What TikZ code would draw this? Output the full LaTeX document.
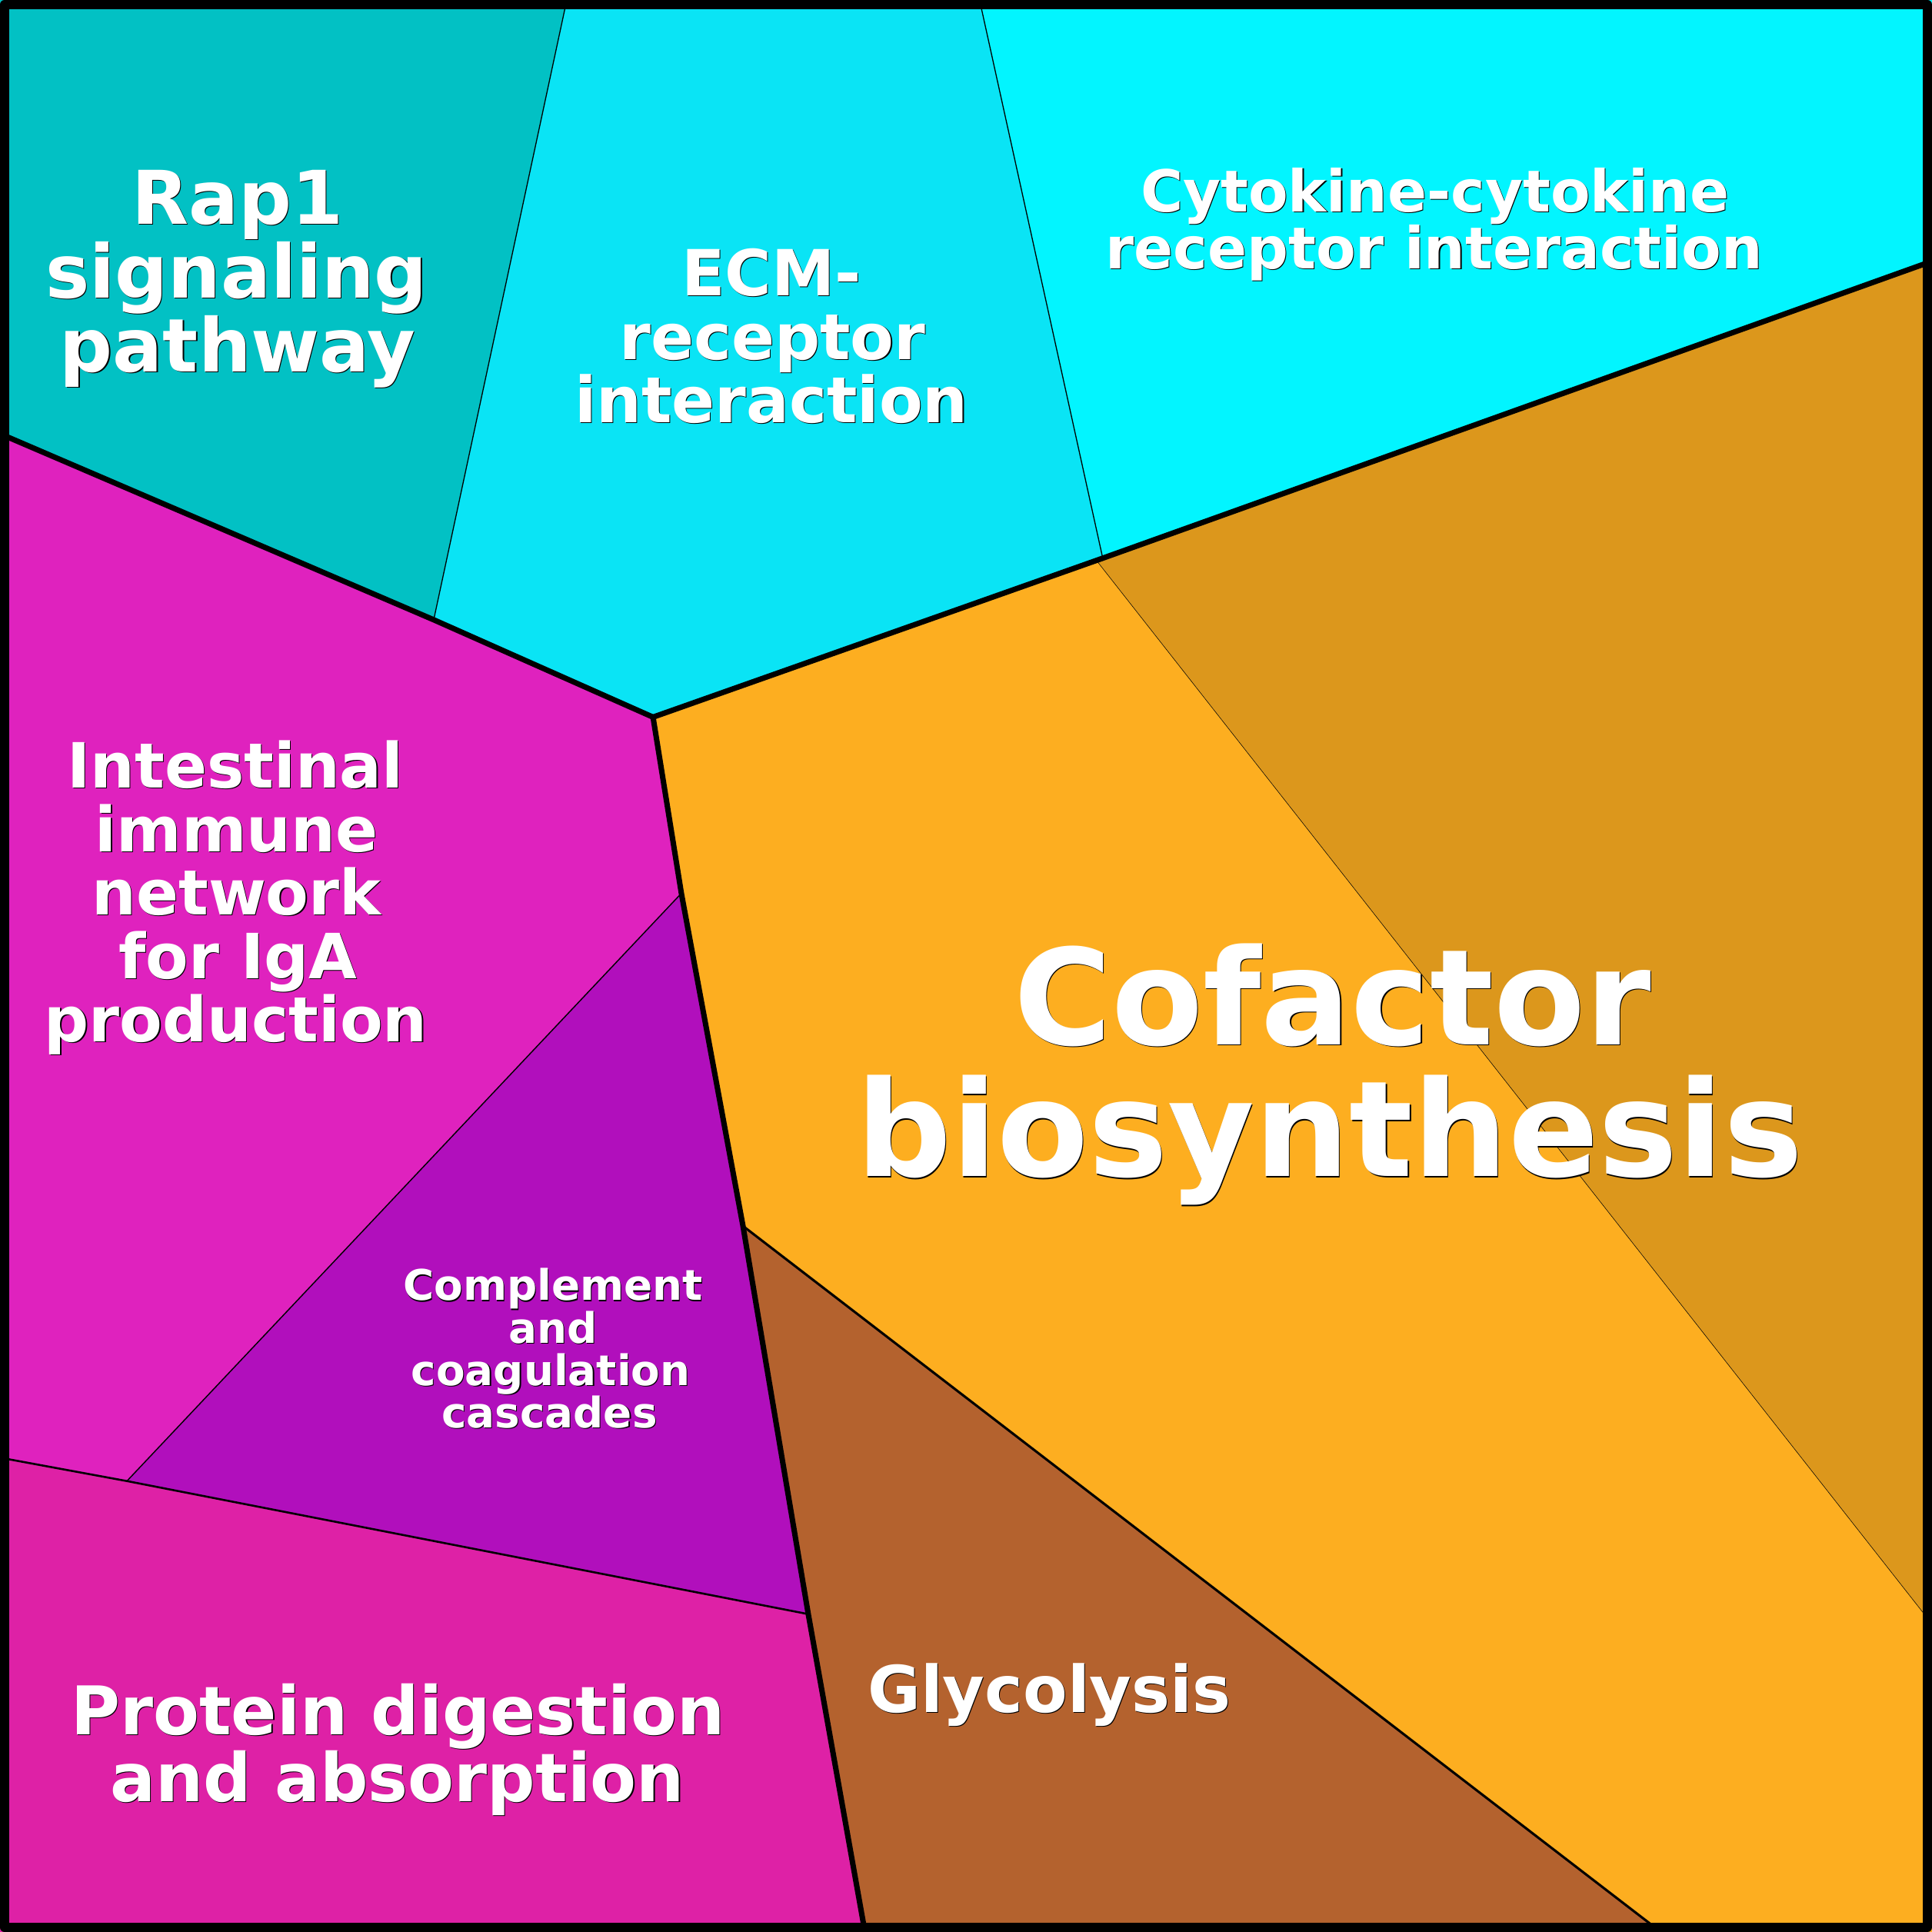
\documentclass[tikz,border=0pt]{standalone}
\usepackage{fontspec}
\setmainfont{DejaVu Sans}
\definecolor{cRap}{HTML}{02C1C4}
\definecolor{cEcm}{HTML}{0AE4F5}
\definecolor{cCyt}{HTML}{02F5FF}
\definecolor{cGold}{HTML}{DC971C}
\definecolor{cCof}{HTML}{FDAE20}
\definecolor{cGly}{HTML}{B4622E}
\definecolor{cInt}{HTML}{DF22BE}
\definecolor{cCom}{HTML}{B10FBC}
\definecolor{cPro}{HTML}{DE21A6}
\tikzset{
  lbltext/.style={anchor=base, inner sep=0pt, text=white},
  lblshadow/.style={anchor=base, inner sep=0pt, text=black, xshift=0.2pt, yshift=-0.2pt},
  thickedge/.style={line width=1.25pt, line join=round, line cap=round},
  frame/.style={line width=2.08pt, line join=round}
}
\newcommand\pwlabel[5]{%
  \node[lblshadow, font=\bfseries\fontsize{#4}{#4}\selectfont] (#1s) at (#2,#3) {#5};
  \node[lbltext, font=\bfseries\fontsize{#4}{#4}\selectfont] (#1) at (#2,#3) {#5};}
\begin{document}
\begin{tikzpicture}[x=0.01cm,y=-0.01cm]
\useasboundingbox (0,0) rectangle (1568,1568);
% corners and vertices
\coordinate (TL) at (0,0);
\coordinate (TR) at (1568,0);
\coordinate (BR) at (1568,1568);
\coordinate (BL) at (0,1568);
\coordinate (t1) at (460,0);
\coordinate (t2) at (795,0);
\coordinate (r1) at (1568,212);
\coordinate (r2) at (1568,1318);
\coordinate (b1) at (702,1568);
\coordinate (b2) at (1348,1568);
\coordinate (l1) at (0,352);
\coordinate (l2) at (0,1183);
\coordinate (v1) at (352,503);
\coordinate (v2) at (530,582);
\coordinate (v3) at (895,453);
\coordinate (v4) at (890,455);
\coordinate (v5) at (553,725);
\coordinate (v6) at (603,995);
\coordinate (v7) at (656,1310);
\coordinate (v8) at (103,1202);
% cells
\fill[cRap] (TL) -- (t1) -- (v1) -- (l1) -- cycle;
\fill[cEcm] (t1) -- (t2) -- (v3) -- (v2) -- (v1) -- cycle;
\fill[cCyt] (t2) -- (TR) -- (r1) -- (v3) -- cycle;
\fill[cGold] (v4) -- (r1) -- (r2) -- cycle;
\fill[cCof] (v2) -- (v4) -- (r2) -- (BR) -- (b2) -- (v6) -- (v5) -- cycle;
\fill[cGly] (v6) -- (b2) -- (b1) -- (v7) -- cycle;
\fill[cInt] (l1) -- (v1) -- (v2) -- (v5) -- (v8) -- (l2) -- cycle;
\fill[cCom] (v5) -- (v6) -- (v7) -- (v8) -- cycle;
\fill[cPro] (l2) -- (v8) -- (v7) -- (b1) -- (BL) -- cycle;
% inner edges
\draw[line width=0.23pt] (t1) -- (v1);
\draw[line width=0.23pt] (t2) -- (v3);
\draw[line width=0.1pt] (v4) -- (r2);
\draw[line width=0.26pt] (v5) -- (v8);
\draw[line width=0.46pt] (l2) -- (v8) -- (v7);
\draw[line width=0.55pt] (v6) -- (b2);
% group edges
\draw[thickedge] (l1) -- (v1) -- (v2) -- (v5) -- (v6) -- (v7) -- (b1);
\draw[thickedge] (v2) -- (v3) -- (r1);
% frame
\draw[frame] (3.65,3.65) rectangle (1564.35,1564.35);
% labels
\pwlabel{rapa}{193}{182}{17.1}{Rap1}
\pwlabel{rapb}{192}{242}{17.1}{signaling}
\pwlabel{rapc}{193}{302}{17.1}{pathway}
\pwlabel{ecma}{626}{240}{14.67}{ECM-}
\pwlabel{ecmb}{627}{292}{14.67}{receptor}
\pwlabel{ecmc}{626}{343}{14.67}{interaction}
\pwlabel{cyta}{1164.5}{172}{13.35}{Cytokine-cytokine}
\pwlabel{cytb}{1164}{218}{13.35}{receptor interaction}
\pwlabel{inta}{191}{639.5}{14.4}{Intestinal}
\pwlabel{intb}{192}{691}{14.4}{immune}
\pwlabel{intc}{192}{742.5}{14.4}{network}
\pwlabel{intd}{193}{794}{14.4}{for IgA}
\pwlabel{inte}{191.5}{845.5}{14.4}{production}
\pwlabel{coma}{449}{1055.5}{9.72}{Complement}
\pwlabel{comb}{449}{1090}{9.72}{and}
\pwlabel{comc}{447}{1124.5}{9.72}{coagulation}
\pwlabel{comd}{446}{1159}{9.72}{cascades}
\pwlabel{proa}{323}{1408}{15.5}{Protein digestion}
\pwlabel{prob}{322.5}{1462}{15.5}{and absorption}
\pwlabel{glya}{851.5}{1390}{14.9}{Glycolysis}
\pwlabel{cofa}{1081.5}{848}{30.75}{Cofactor}
\pwlabel{cofb}{1079}{955}{30.75}{biosynthesis}
\end{tikzpicture}
\end{document}
